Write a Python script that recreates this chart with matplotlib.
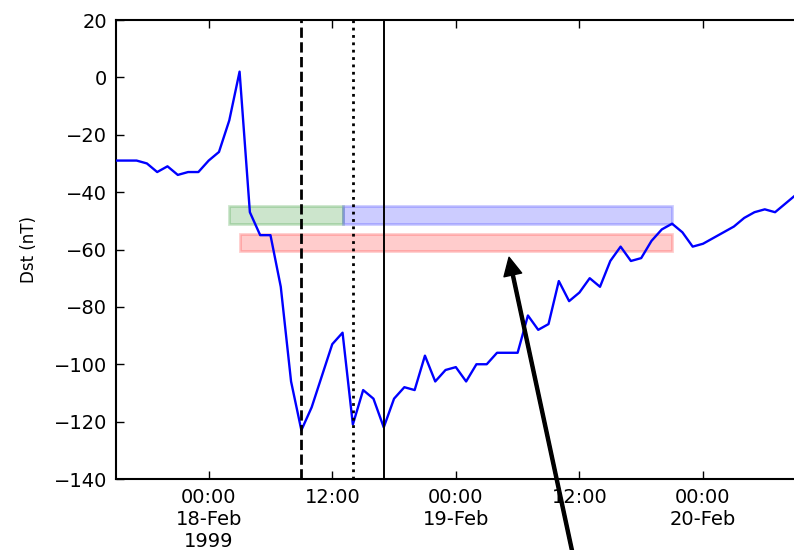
import numpy as np
import pandas as pd
import matplotlib
matplotlib.use("Agg")
import matplotlib.pyplot as plt
import matplotlib.dates as mdates
from matplotlib.patches import Rectangle

# Hourly Dst index, starting 1999-02-17 15:00 UT
start_time = "1999-02-17 15:00"
dst_values = [
    -29, -29, -29, -30, -33, -31, -34, -33, -33,            # 17-Feb 15:00 .. 23:00
    -29, -26, -15, 2, -47, -55, -55, -73, -106, -123,        # 18-Feb 00:00 .. 09:00
    -115, -104, -93, -89, -121, -109, -112, -122, -112,      # 10:00 .. 18:00
    -108, -109, -97, -106, -102,                             # 19:00 .. 23:00
    -101, -106, -100, -100, -96, -96, -96, -83, -88, -86,    # 19-Feb 00:00 .. 09:00
    -71, -78, -75, -70, -73, -64, -59, -64, -63, -57,        # 10:00 .. 19:00
    -53, -51, -54, -59,                                      # 20:00 .. 23:00
    -58, -56, -54, -52, -49, -47, -46, -47, -44, -41,        # 20-Feb 00:00 .. 09:00
]
times = pd.date_range(start_time, periods=len(dst_values), freq="h")

# Event markers
t_dashed = pd.Timestamp("1999-02-18 09:00")
t_dotted = pd.Timestamp("1999-02-18 14:00")
t_solid = pd.Timestamp("1999-02-18 17:00")

# Interval bands: (start, end, Dst low, Dst high, colour)
bands = [
    ("1999-02-18 02:00", "1999-02-18 13:00", -51, -45, "g"),
    ("1999-02-18 13:00", "1999-02-19 21:00", -51, -45, "b"),
    ("1999-02-18 03:00", "1999-02-19 21:00", -60.5, -54.5, "r"),
]

# Arrow (tip and tail)
arrow_tip = (pd.Timestamp("1999-02-19 05:10"), -62.7)
arrow_tail = (pd.Timestamp("1999-02-19 12:18"), -182.0)

tick_times = ["1999-02-18 00:00", "1999-02-18 12:00", "1999-02-19 00:00",
              "1999-02-19 12:00", "1999-02-20 00:00"]
tick_labels = ["00:00\n18-Feb\n1999", "12:00", "00:00\n19-Feb", "12:00",
               "00:00\n20-Feb"]
y_ticks = [20, 0, -20, -40, -60, -80, -100, -120, -140]

plt.rcParams["font.family"] = "DejaVu Sans"
plt.rcParams["font.size"] = 14

fig = plt.figure(figsize=(7.94, 5.5), dpi=100, facecolor="white")
x_start = pd.Timestamp("1999-02-17 15:00")
x_end = pd.Timestamp("1999-02-20 12:00")
px_per_hour = 10.298
width_px = (x_end - x_start) / pd.Timedelta(hours=1) * px_per_hour
ax = fig.add_axes([116 / 794, 71 / 550, width_px / 794, 459 / 550])

ax.plot(times, dst_values, color="b", lw=1.7, zorder=3)

for t0, t1, lo, hi, c in bands:
    x0 = mdates.date2num(pd.Timestamp(t0))
    x1 = mdates.date2num(pd.Timestamp(t1))
    ax.add_patch(Rectangle((x0, lo), x1 - x0, hi - lo, facecolor=c,
                           edgecolor=c, alpha=0.2, lw=2, zorder=2))

ax.axvline(t_dashed, color="k", ls="--", lw=2, zorder=4)
ax.axvline(t_dotted, color="k", ls=":", lw=2, zorder=4)
ax.axvline(t_solid, color="k", ls="-", lw=1.4, zorder=4)

ax.annotate("", xy=arrow_tip, xytext=arrow_tail, xycoords="data",
            textcoords="data", annotation_clip=False,
            arrowprops=dict(facecolor="black", edgecolor="black", width=2.2,
                            headwidth=13, headlength=13, shrink=0),
            zorder=6)

ax.set_xlim(x_start, x_end)
ax.set_ylim(-140, 20)
ax.set_xticks([pd.Timestamp(t) for t in tick_times])
ax.set_xticklabels(tick_labels)
ax.set_yticks(y_ticks)
ax.set_ylabel("Dst (nT)", fontsize=12, labelpad=11)

ax.tick_params(direction="in", length=5.5, width=1, top=True, right=True,
               pad=6.5)
for sp in ax.spines.values():
    sp.set_linewidth(1.5)

fig.savefig("out.png", dpi=100, facecolor="white")
